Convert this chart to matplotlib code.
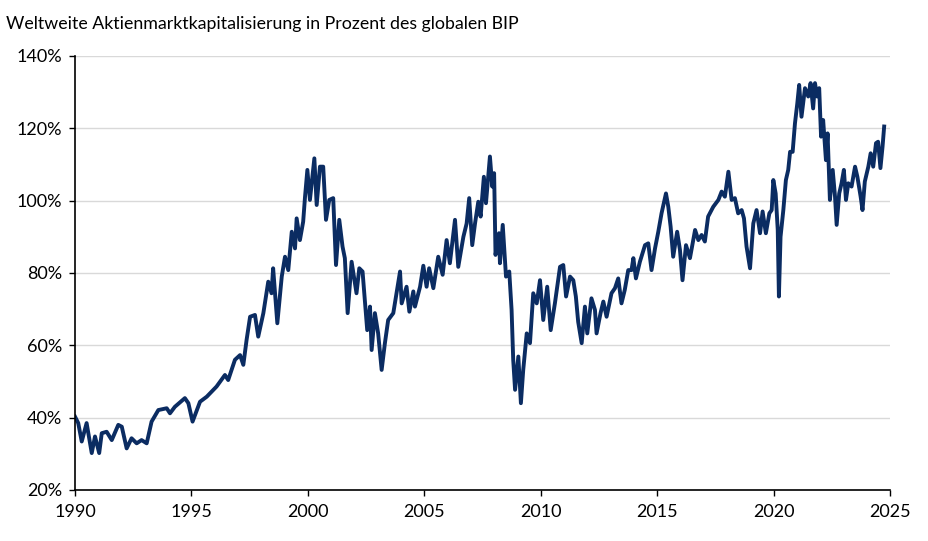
import numpy as np
import matplotlib.pyplot as plt

# Weltweite Marktkapitalisierung / globales BIP
jahr = [
    1990.00, 1990.14, 1990.29, 1990.50, 1990.72, 1990.86, 1991.04, 1991.15, 1991.36, 1991.58,
    1991.86, 1992.01, 1992.22, 1992.43, 1992.65, 1992.86, 1993.08, 1993.29, 1993.58, 1993.94,
    1994.08, 1994.29, 1994.72, 1994.87, 1995.05, 1995.37, 1995.66, 1996.08, 1996.44, 1996.58,
    1996.87, 1997.09, 1997.23, 1997.37, 1997.52, 1997.73, 1997.87, 1998.09, 1998.30, 1998.44,
    1998.51, 1998.69, 1998.88, 1999.02, 1999.16, 1999.31, 1999.45, 1999.52, 1999.66, 1999.80,
    1999.88, 1999.98, 2000.09, 2000.28, 2000.38, 2000.52, 2000.66, 2000.78, 2000.92, 2001.09,
    2001.21, 2001.35, 2001.49, 2001.59, 2001.71, 2001.88, 2002.09, 2002.21, 2002.35, 2002.55,
    2002.67, 2002.74, 2002.88, 2003.02, 2003.17, 2003.31, 2003.45, 2003.67, 2003.81, 2003.96,
    2004.03, 2004.24, 2004.36, 2004.53, 2004.60, 2004.82, 2004.96, 2005.10, 2005.21, 2005.39,
    2005.60, 2005.79, 2005.96, 2006.10, 2006.32, 2006.46, 2006.68, 2006.82, 2006.93, 2007.06,
    2007.18, 2007.32, 2007.42, 2007.56, 2007.65, 2007.82, 2007.92, 2008.00, 2008.06, 2008.21,
    2008.25, 2008.37, 2008.51, 2008.65, 2008.75, 2008.82, 2008.90, 2009.04, 2009.15, 2009.25,
    2009.40, 2009.54, 2009.68, 2009.83, 2009.97, 2010.11, 2010.28, 2010.43, 2010.61, 2010.83,
    2010.97, 2011.09, 2011.26, 2011.40, 2011.51, 2011.61, 2011.76, 2011.90, 2012.00, 2012.18,
    2012.33, 2012.40, 2012.57, 2012.69, 2012.83, 2013.04, 2013.19, 2013.33, 2013.47, 2013.61,
    2013.76, 2013.90, 2013.98, 2014.09, 2014.26, 2014.48, 2014.62, 2014.76, 2014.91, 2015.05,
    2015.19, 2015.38, 2015.48, 2015.58, 2015.69, 2015.86, 2015.98, 2016.09, 2016.24, 2016.41,
    2016.63, 2016.77, 2016.91, 2017.05, 2017.19, 2017.41, 2017.63, 2017.77, 2017.91, 2018.06,
    2018.20, 2018.34, 2018.48, 2018.63, 2018.73, 2018.84, 2018.99, 2019.13, 2019.27, 2019.42,
    2019.53, 2019.67, 2019.82, 2019.92, 2019.99, 2020.09, 2020.18, 2020.23, 2020.30, 2020.42,
    2020.53, 2020.63, 2020.71, 2020.82, 2020.92, 2021.02, 2021.10, 2021.20, 2021.35, 2021.49,
    2021.59, 2021.70, 2021.78, 2021.87, 2021.96, 2022.04, 2022.13, 2022.25, 2022.32, 2022.42,
    2022.54, 2022.64, 2022.71, 2022.82, 2022.92, 2023.02, 2023.11, 2023.21, 2023.35, 2023.50,
    2023.60, 2023.74, 2023.82, 2023.92, 2024.07, 2024.17, 2024.28, 2024.40, 2024.49, 2024.59,
    2024.68, 2024.75,
]
prozent = [
    40.3, 38.5, 33.4, 38.5, 30.2, 34.8, 30.2, 35.7, 36.1, 33.8,
    38.0, 37.5, 31.5, 34.3, 32.9, 33.8, 32.9, 38.9, 42.1, 42.6,
    41.2, 43.0, 45.4, 44.0, 38.9, 44.4, 45.8, 48.6, 51.8, 50.4,
    56.0, 57.3, 54.6, 61.5, 67.9, 68.4, 62.4, 68.9, 77.6, 74.4,
    81.3, 66.1, 79.0, 84.5, 80.8, 91.4, 86.8, 95.1, 89.1, 94.2,
    101.1, 108.5, 100.2, 111.7, 98.8, 109.4, 109.4, 94.7, 100.2, 100.7,
    82.2, 94.7, 87.3, 84.1, 68.9, 83.1, 74.4, 81.3, 80.4, 64.2,
    70.7, 58.7, 68.9, 63.3, 53.2, 60.6, 67.0, 68.9, 74.4, 80.4,
    71.6, 76.2, 69.3, 74.9, 70.7, 76.2, 82.0, 76.2, 81.3, 75.8,
    84.5, 79.5, 89.1, 82.7, 94.7, 81.7, 90.0, 93.7, 100.7, 87.7,
    93.7, 99.7, 95.6, 106.6, 99.3, 112.2, 103.9, 107.6, 85.0, 91.0,
    82.7, 93.3, 79.0, 80.4, 69.8, 56.0, 47.7, 56.9, 44.0, 53.2,
    63.3, 60.6, 74.4, 71.6, 78.0, 67.0, 76.2, 64.2, 71.6, 81.7,
    82.2, 73.5, 79.0, 78.0, 73.5, 66.5, 60.6, 70.7, 63.3, 73.0,
    69.8, 63.3, 68.9, 72.1, 67.9, 74.4, 75.8, 78.5, 71.6, 75.3,
    80.8, 80.8, 84.1, 78.5, 83.1, 87.7, 88.2, 80.8, 86.8, 91.4,
    96.5, 102.0, 98.3, 92.8, 84.5, 91.4, 86.4, 78.0, 87.7, 84.1,
    91.9, 89.1, 90.5, 88.7, 95.6, 98.3, 100.2, 102.5, 101.1, 108.0,
    100.2, 100.7, 96.5, 97.4, 95.1, 87.3, 81.3, 93.7, 97.4, 91.0,
    97.0, 91.0, 96.5, 97.4, 105.7, 102.0, 91.9, 73.5, 90.0, 97.4,
    105.7, 108.5, 113.5, 113.5, 121.4, 126.9, 132.0, 123.2, 131.1, 128.8,
    132.5, 125.5, 132.5, 128.8, 131.1, 117.7, 122.3, 111.2, 118.6, 100.2,
    108.5, 101.1, 93.3, 102.0, 104.8, 108.5, 100.2, 104.8, 103.9, 109.4,
    106.6, 101.1, 97.4, 105.3, 109.4, 113.1, 109.4, 115.9, 116.3, 109.0,
    114.9, 120.5,
]

x_ticks = [1990, 1995, 2000, 2005, 2010, 2015, 2020, 2025]
y_ticks = [20, 40, 60, 80, 100, 120, 140]

plt.rcParams['font.family'] = ['Lato', 'DejaVu Sans']

fig = plt.figure(figsize=(9.29, 5.41), dpi=100)
ax = fig.add_axes([0.0807, 0.0943, 0.8773, 0.8022])

ax.plot(jahr, prozent, color='#0b2c62', linewidth=2.8, solid_joinstyle='round')

ax.set_xlim(1990, 2025)
ax.set_ylim(20, 140)
ax.set_xticks(x_ticks)
ax.set_yticks(y_ticks)
ax.set_yticklabels([f'{v}%' for v in y_ticks])

ax.yaxis.grid(True, color='#d9d9d9', linewidth=1)
ax.set_axisbelow(True)
for s in ['top', 'right']:
    ax.spines[s].set_visible(False)
for s in ['left', 'bottom']:
    ax.spines[s].set_color('black')
    ax.spines[s].set_linewidth(1.2)
ax.tick_params(axis='both', labelsize=13, length=4, width=1, color='black')
ax.tick_params(axis='x', pad=6)
ax.tick_params(axis='y', pad=5)

fig.text(0.006, 0.955, 'Weltweite Aktienmarktkapitalisierung in Prozent des globalen BIP',
         fontsize=12.8, va='center', ha='left')

fig.savefig('out.png', dpi=100)
